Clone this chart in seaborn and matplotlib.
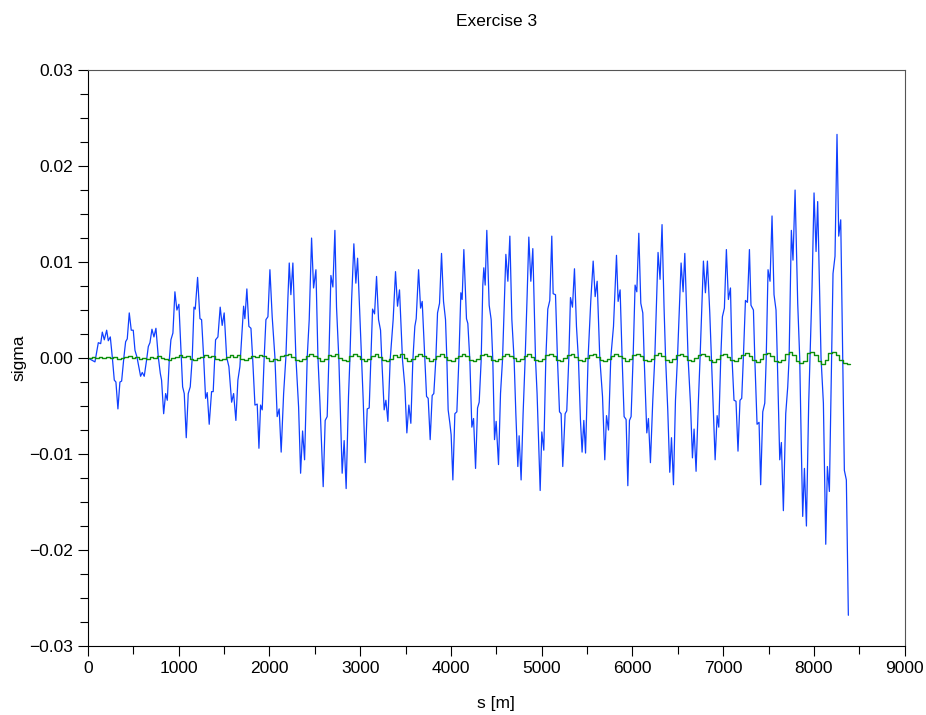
import numpy as np
import pandas as pd
import matplotlib
matplotlib.use('Agg')
import matplotlib.pyplot as plt
from matplotlib.ticker import MultipleLocator
import seaborn as sns

# orbit deviation along the ring (blue)
blue_s = [0, 77, 114, 140, 158, 180, 206, 224, 246, 268, 290, 308, 330, 352, 371, 396, 415, 433, 455, 477,
          499, 518, 540, 580, 598, 620, 646, 665, 683, 705, 727, 749, 775, 797, 811, 834, 856, 874, 896, 914,
          936, 958, 980, 1002, 1043, 1061, 1083, 1105, 1127, 1149, 1168, 1182, 1208, 1234, 1252, 1274, 1296, 1314, 1336,
          1362, 1380, 1406, 1432, 1457, 1479, 1501, 1528, 1553, 1583, 1605, 1630, 1652, 1674, 1696, 1715, 1729, 1751,
          1773, 1796, 1814, 1840, 1865, 1884, 1902, 1920, 1942, 1961, 1983, 2005, 2030, 2060, 2085, 2107, 2129, 2156,
          2181, 2203, 2218, 2236, 2258, 2291, 2321, 2343, 2365, 2387, 2416, 2438, 2464, 2486, 2512, 2534, 2556, 2592,
          2614, 2636, 2655, 2677, 2699, 2721,
          2739, 2765, 2801, 2823, 2845, 2871, 2886, 2905, 2930, 2952, 2971, 3033, 3055, 3077, 3099, 3117, 3136, 3158,
          3180, 3202, 3224, 3238, 3264, 3283, 3305, 3330, 3363, 3389, 3411, 3433, 3466, 3492, 3514, 3536, 3558, 3580,
          3602, 3617, 3643, 3665, 3683, 3712, 3731, 3749, 3771, 3793, 3811, 3833, 3852, 3874, 3896, 3918, 3940, 3955,
          3969, 3988, 4002, 4021, 4043, 4065, 4087, 4109, 4123, 4142,
          4171, 4186, 4208, 4230, 4249, 4271, 4293, 4311, 4333, 4351, 4362, 4377, 4395, 4421, 4443, 4461, 4480, 4498,
          4524, 4546, 4568, 4586, 4605, 4627, 4649, 4671, 4696, 4715, 4737, 4751, 4773, 4795, 4817, 4839, 4858, 4880,
          4902, 4932, 4949, 4983, 5001, 5023, 5045, 5067, 5089, 5111, 5126, 5152, 5174, 5196, 5214, 5232, 5258, 5276,
          5298, 5317, 5339, 5361, 5383, 5405, 5427, 5445, 5464, 5483,
          5511, 5541, 5567, 5589, 5611, 5640, 5670, 5695, 5714, 5736, 5761, 5791, 5824, 5842, 5864, 5886, 5908, 5930,
          5949, 5967, 5985, 6007, 6029, 6048, 6070, 6092, 6114, 6129, 6158, 6176, 6198, 6224, 6246, 6282, 6304, 6326,
          6348, 6365, 6389, 6411, 6430, 6452, 6474, 6496, 6536, 6558, 6577, 6613, 6639, 6661, 6679, 6701, 6727, 6745,
          6782, 6804, 6826, 6852, 6870,
          6911, 6933, 6951, 6973, 6991, 7013, 7035, 7057, 7080, 7097, 7119, 7141, 7163, 7185, 7204, 7222, 7245, 7267,
          7289, 7306, 7333, 7348, 7373, 7395, 7413, 7436, 7458, 7474, 7494, 7516, 7538, 7560, 7582, 7596, 7623, 7641,
          7663, 7689, 7711, 7726, 7751, 7769, 7792, 7821, 7843, 7862, 7876, 7895, 7917, 7942, 7956, 7979, 8001, 8023,
          8041, 8078, 8104, 8130, 8148, 8170, 8195, 8210, 8232, 8254, 8273, 8295, 8317, 8335, 8357, 8379]

blue_sigma = [0.0000, -0.0004, 0.0016, 0.0015, 0.0027, 0.0019, 0.0029, 0.0018, 0.0022, 0.0001, -0.0023, -0.0025,
              -0.0053, -0.0025, -0.0024, 0.0001, 0.0017, 0.0020, 0.0047, 0.0029, 0.0029, 0.0008, 0.0001, -0.0019,
              -0.0015, -0.0019, -0.0002, 0.0012, 0.0016, 0.0030, 0.0022, 0.0031, 0.0001, -0.0016, -0.0023, -0.0058,
              -0.0037, -0.0044, -0.0002, 0.0019, 0.0026, 0.0069, 0.0050, 0.0056, -0.0030, -0.0037, -0.0083, -0.0037,
              -0.0030, 0.0000, 0.0053, 0.0051, 0.0084, 0.0041, 0.0040, 0.0002, -0.0042, -0.0036, -0.0069,
              -0.0035, -0.0035, 0.0019, 0.0022, 0.0053, 0.0034, 0.0047, 0.0001, -0.0009, -0.0046, -0.0037, -0.0065,
              -0.0023, -0.0009, 0.0024, 0.0054, 0.0041, 0.0072, 0.0033, 0.0031, 0.0001, -0.0049, -0.0048, -0.0094,
              -0.0049, -0.0054, 0.0001, 0.0040, 0.0043, 0.0092, 0.0043, 0.0001, -0.0061, -0.0053, -0.0098, -0.0037,
              0.0001, 0.0062, 0.0099, 0.0066, 0.0099, 0.0001, -0.0051, -0.0120, -0.0076, -0.0106, 0.0001, 0.0040,
              0.0125, 0.0073, 0.0092, 0.0001, -0.0046, -0.0134, -0.0065, -0.0061, 0.0001, 0.0086, 0.0074, 0.0133,
              0.0053, -0.0002, -0.0120, -0.0086, -0.0136, -0.0040, -0.0002, 0.0060, 0.0119, 0.0078, 0.0104, -0.0044,
              -0.0109, -0.0053, -0.0052, -0.0002, 0.0051, 0.0046, 0.0085, 0.0040, 0.0029, -0.0002, -0.0054, -0.0044,
              -0.0066, -0.0002, 0.0040, 0.0090, 0.0054, 0.0071, -0.0002, -0.0030, -0.0078, -0.0049, -0.0068, -0.0002,
              0.0033, 0.0041, 0.0092, 0.0052, 0.0059, -0.0002, -0.0040, -0.0042, -0.0085, -0.0039, -0.0037, -0.0002,
              0.0047, 0.0057, 0.0109, 0.0059, 0.0040, -0.0002, -0.0054, -0.0068, -0.0080, -0.0127, -0.0058, -0.0056,
              -0.0002, 0.0068, 0.0061, 0.0113,
              0.0041, 0.0036, -0.0002, -0.0072, -0.0063, -0.0115, -0.0052, -0.0046, -0.0002, 0.0076, 0.0094, 0.0076,
              0.0133, 0.0055, 0.0040, -0.0002, -0.0085, -0.0066, -0.0111, -0.0037, -0.0002, 0.0053, 0.0108, 0.0080,
              0.0127, 0.0040, -0.0002, -0.0058, -0.0113, -0.0081, -0.0127, -0.0058, -0.0002, 0.0064, 0.0126, 0.0080,
              0.0114, -0.0002, -0.0037, -0.0138, -0.0077, -0.0096, -0.0002, 0.0051, 0.0060, 0.0127, 0.0067, 0.0066,
              -0.0002, -0.0056, -0.0058, -0.0113, -0.0058, -0.0055, -0.0002, 0.0063, 0.0053, 0.0093, 0.0033, -0.0002,
              -0.0065, -0.0098, -0.0065, -0.0099,
              0.0000, 0.0060, 0.0101, 0.0064, 0.0080, 0.0000, -0.0040, -0.0106, -0.0060, -0.0075, 0.0000, 0.0033,
              0.0107, 0.0059, 0.0071, 0.0000, -0.0061, -0.0064, -0.0133, -0.0065, -0.0061, 0.0000, 0.0076, 0.0069,
              0.0130, 0.0057, 0.0047, 0.0000, -0.0078, -0.0063, -0.0109, -0.0044, 0.0000, 0.0110, 0.0082, 0.0139,
              0.0053, 0.0000, -0.0054, -0.0119, -0.0083, -0.0132, -0.0044, 0.0000, 0.0099, 0.0069, 0.0109, 0.0000,
              -0.0047, -0.0104, -0.0074, -0.0118, -0.0044, 0.0000, 0.0101, 0.0068, 0.0101, 0.0047, 0.0000,
              -0.0106, -0.0060, -0.0072, 0.0000, 0.0043, 0.0052, 0.0113, 0.0061, 0.0073, 0.0000, -0.0044, -0.0045,
              -0.0097, -0.0044, -0.0042, 0.0000, 0.0060, 0.0058, 0.0113, 0.0055, 0.0050, 0.0000, -0.0069, -0.0067,
              -0.0132, -0.0056, -0.0047, 0.0000, 0.0092, 0.0080, 0.0148, 0.0066, 0.0050, 0.0000, -0.0106, -0.0088,
              -0.0159, -0.0058, -0.0030, 0.0000, 0.0133, 0.0102, 0.0175, 0.0057, 0.0000, -0.0099, -0.0165, -0.0115,
              -0.0175, -0.0047, 0.0000, 0.0074, 0.0172, 0.0111, 0.0163, 0.0000, -0.0047, -0.0194, -0.0113, -0.0139,
              0.0000, 0.0088, 0.0106, 0.0233, 0.0127, 0.0144, 0.0000, -0.0117, -0.0127, -0.0268]

# corrected orbit (green), step values every 40 m, in units of 1e-4
green_s = list(range(0, 8401, 40))
green_val = [0, 1, 0, 1, 0, 1, 0, 1, -1, 0,
             1, 2, 0, 1, -1, 0, -1, 1, 0, 2,
             0, -1, -2, 0, 1, 3, 1, 2, -1, -2,
             0, 1, 3, 1, 2, -1, -2, -1, 1, 3,
             1, 3, -1, -2, 0, 2, 1, 3, 2, 0,
             -3, -1, -2, 2, 3, 4, 1, -2, -3, -1,
             2, 4, 2, 0, -3, -1, 3, 2, 4, 0,
             -2, -3, 2, 4, 2, -1, -3, -1, 2, 4,
             1, -2, -3, -1, 3, 1, 4, 0, -3, -1,
             2, 4, 2, 0, -3, -1, 2, 4, 1, -2,
             -3, 0, 2, 4, 2, -2, -3, -1, 3, 4,
             2, -2, -3, -1, 2, 4, 2, 0, -3, -1,
             2, 4, 1, -2, -3, -1, 3, 4, 2, -2,
             -3, 0, 3, 4, 1, -2, -3, 0, 3, 4,
             1, -2, -3, -1, 2, 4, 2, 0, -3, -1,
             3, 4, 2, -2, -3, -1, 3, 5, 2, -2,
             -4, -1, 3, 4, 2, -2, -3, 0, 3, 4,
             2, -2, -4, -1, 3, 4, 1, -2, -3, 0,
             3, 5, 2, -2, -4, -1, 4, 5, 2, -3,
             -4, -2, 4, 6, 3, -3, -5, -3, 5, 6,
             3, -3, -6, -2, 5, 6, 3, -2, -5, -6,
             -6]

x_ticks = [0, 1000, 2000, 3000, 4000, 5000, 6000, 7000, 8000, 9000]
y_ticks = [-0.03, -0.02, -0.01, 0.0, 0.01, 0.02, 0.03]
y_tick_labels = ['\u22120.03', '\u22120.02', '\u22120.01', '0.00', '0.01', '0.02', '0.03']

blue = pd.DataFrame({'s': blue_s, 'sigma': blue_sigma})
green = pd.DataFrame({'s': green_s, 'sigma': np.array(green_val) * 1e-4})

sns.set_style('ticks')
plt.rcParams['font.family'] = ['Liberation Sans', 'DejaVu Sans']
plt.rcParams['font.size'] = 12.5
plt.rcParams['text.color'] = 'black'
plt.rcParams['axes.labelcolor'] = 'black'

fig = plt.figure(figsize=(9.26, 7.15), dpi=100)
ax = fig.add_axes([0.095, 0.0965, 0.882, 0.8055])

sns.lineplot(x='s', y='sigma', data=blue, ax=ax, color='#1040ff', linewidth=0.9,
             sort=False, estimator=None)
sns.lineplot(x='s', y='sigma', data=green, ax=ax, color='#0b8f0b', linewidth=1.0,
             sort=False, estimator=None, drawstyle='steps-post')

ax.set_xlim(0, 9000)
ax.set_ylim(-0.03, 0.03)
ax.set_xticks(x_ticks)
ax.set_yticks(y_ticks)
ax.set_yticklabels(y_tick_labels)
ax.xaxis.set_minor_locator(MultipleLocator(500))
ax.yaxis.set_minor_locator(MultipleLocator(0.0025))
ax.tick_params(which='major', direction='out', length=7, width=0.8, colors='black', labelsize=12.5)
ax.tick_params(which='minor', direction='out', length=5.5, width=0.8, colors='black')
ax.tick_params(top=False, right=False, which='both')

for side in ['left', 'bottom']:
    ax.spines[side].set_color('black')
    ax.spines[side].set_linewidth(0.8)
for side in ['top', 'right']:
    ax.spines[side].set_visible(True)
    ax.spines[side].set_color('#555555')
    ax.spines[side].set_linewidth(0.8)

ax.set_title('Exercise 3', fontsize=12.5, color='black', pad=32)
ax.set_xlabel('s [m]', fontsize=12.5, labelpad=15)
ax.set_ylabel('sigma', fontsize=12.5, labelpad=2)
ax.grid(False)

fig.savefig('out.png', dpi=100)
